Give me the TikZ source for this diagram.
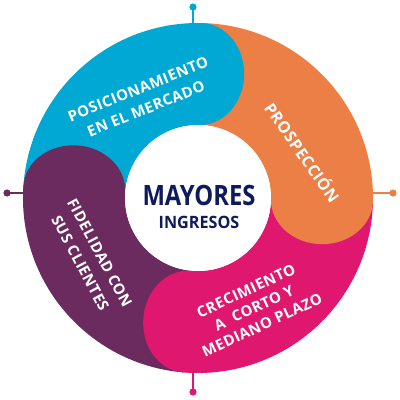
\documentclass[tikz,border=0pt]{standalone}
\usepackage{fontspec}
\setmainfont{Open Sans}
\usetikzlibrary{calc}
\definecolor{cblue}{HTML}{00A8D3}
\definecolor{corange}{HTML}{EB7F45}
\definecolor{cpink}{HTML}{E0176F}
\definecolor{cpurple}{HTML}{6C2B5E}
\definecolor{cnavy}{HTML}{0E1A5C}
\tikzset{
  ringtext/.style={text=white, font=\bfseries\fontsize{15}{21}\selectfont\addfontfeature{LetterSpace=3}, align=center, inner sep=0pt},
  tickline/.style={line width=1.5pt},
}
\begin{document}
\begin{tikzpicture}[x=1pt,y=1pt]
\useasboundingbox (0,0) rectangle (400,400);
\coordinate (C) at (198,202);
% sectors
\foreach \a/\b/\col in {89/176/cblue, -1/89/corange, -95/-1/cpink, 176/265/cpurple}{
  \fill[\col] ([shift={(\a:175)}]C) arc[start angle=\a, end angle=\b, radius=175]
     -- ([shift={(\b:73)}]C) arc[start angle=\b, end angle=\a, radius=73] -- cycle;
}
% caps
\foreach \a/\col in {89/cblue, -1/corange, -95/cpink, 176/cpurple}{
  \fill[\col, shift={(C)}, rotate=\a] (124,0) ellipse [x radius=51, y radius=44];
}
\node[circle, fill=white, minimum size=146pt, inner sep=0pt] (hub) at (C) {};
% ticks
\coordinate (tT) at (193,377); \coordinate (dT) at (193,393);
\coordinate (tR) at (373,207); \coordinate (dR) at (393,207);
\coordinate (tB) at (193,27);  \coordinate (dB) at (193,8);
\coordinate (tL) at (23,207);  \coordinate (dL) at (7,207);
\draw[tickline, cblue] (tT) -- (dT); \fill[cblue] (dT) circle (3.6);
\draw[tickline, corange] (tR) -- (dR); \fill[corange] (dR) circle (3.6);
\draw[tickline, cpink] (tB) -- (dB); \fill[cpink] (dB) circle (3.6);
\draw[tickline, cpurple] (tL) -- (dL); \fill[cpurple] (dL) circle (3.6);
% center text
\node[text=cnavy, font=\bfseries\fontsize{28}{28}\selectfont, xscale=0.85, inner sep=0pt] (t1) at (199,205) {MAYORES};
\node[text=cnavy, font=\bfseries\fontsize{17}{17}\selectfont, xscale=0.95, inner sep=0pt] (t2) at (199,178) {INGRESOS};
% ring texts
\node[ringtext, rotate=22] (pos) at (142,301) {POSICIONAMIENTO\\EN EL MERCADO};
\node[ringtext, rotate=-55, font=\bfseries\fontsize{16}{21}\selectfont\addfontfeature{LetterSpace=3}] (pro) at (303,248) {PROSPECCIÓN};
\node[ringtext, rotate=-62, font=\bfseries\fontsize{15}{22}\selectfont\addfontfeature{LetterSpace=3}] (fid) at (90,142) {FIDELIDAD CON\\SUS CLIENTES};
\node[ringtext, rotate=25, font=\bfseries\fontsize{15}{19}\selectfont\addfontfeature{LetterSpace=3}] (cre) at (254,92) {CRECIMIENTO\\A\ \ CORTO Y\\MEDIANO PLAZO};
\end{tikzpicture}
\end{document}
